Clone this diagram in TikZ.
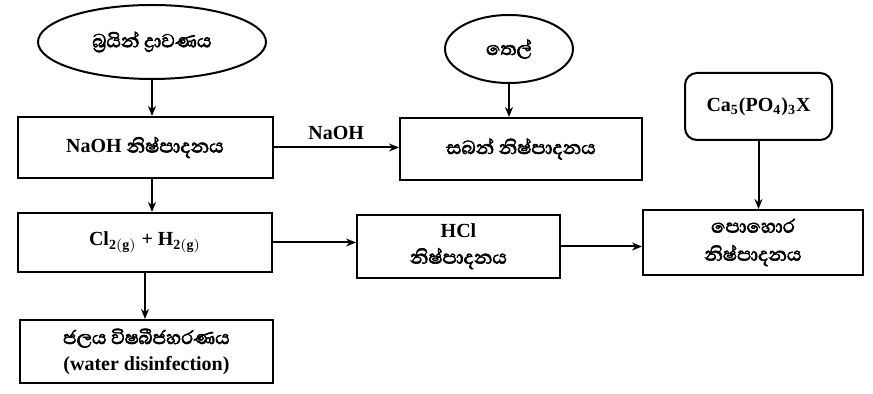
\documentclass[tikz,border=0pt]{standalone}
\usepackage{fontspec}
\setmainfont{Liberation Serif}
\newfontfamily\sinfont[Script=Sinhala,AutoFakeBold=2.5]{Abhaya Libre}
\newcommand{\sintext}[1]{{\sinfont\fontsize{12}{13}\selectfont #1}}
\usetikzlibrary{shapes.geometric,arrows.meta}

\begin{document}
\begin{tikzpicture}[x=0.5pt,y=-0.5pt,
  font=\bfseries\fontsize{10}{12}\selectfont,
  stage/.style={draw,line width=1pt,inner sep=0pt,align=center},
  source/.style={draw,ellipse,line width=1pt,inner sep=0pt,align=center},
  feed/.style={line width=1pt,-{Stealth[length=5pt,width=4pt]}}]
\useasboundingbox (0,0) rectangle (873,394);
\node [source,minimum width=114pt,minimum height=37pt] (brine) at (152,42) {\sintext{බ්‍රයින් ද්‍රාවණය}};
\node [source,minimum width=64pt,minimum height=34pt] (oil) at (509,49) {\sintext{තෙල්}};
\node [stage,minimum width=127.5pt,minimum height=30.5pt] (naoh) at (145,147.5) {NaOH \sintext{නිෂ්පාදනය}};
\node [stage,minimum width=121pt,minimum height=31pt] (soap) at (521,149) {\sintext{සබන් නිෂ්පාදනය}};
\node [stage,minimum width=127pt,minimum height=29.5pt] (gas) at (145,242.5) {Cl$_{\mathbf{2(g)}}$ + H$_{\mathbf{2(g)}}$};
\node [stage,minimum width=101.5pt,minimum height=31.5pt] (hcl) at (458.5,246.5) {HCl\\[1pt]\sintext{නිෂ්පාදනය}};
\node [stage,minimum width=110pt,minimum height=32.5pt] (fert) at (753,242.5) {\sintext{පොහොර}\\[2pt]\sintext{නිෂ්පාදනය}};
\node [stage,rounded corners=6pt,minimum width=73.5pt,minimum height=33.5pt] (rock) at (758.5,106.5) {Ca$_{\mathbf 5}$(PO$_{\mathbf 4}$)$_{\mathbf 3}$X};
\node [stage,minimum width=126.5pt,minimum height=31.5pt] (water) at (146.5,351.5) {\sintext{ජලය විෂබීජහරණය}\\[1pt](water disinfection)};
\draw [feed] (brine.south) -- (brine.south |- naoh.north);
\draw [feed] (oil.south) -- (oil.south |- soap.north);
\draw [feed] (rock.south) -- (rock.south |- fert.north);
\draw [feed] (naoh.south -| brine.south) -- (brine.south |- gas.north);
\draw [feed] (gas.south) -- (gas.south |- water.north);
\draw [feed] (naoh.east) -- (naoh.east -| soap.west) node [midway,above] {NaOH};
\draw [feed] (gas.east) -- (gas.east -| hcl.west);
\draw [feed] (hcl.east) -- (hcl.east -| fert.west);
\end{tikzpicture}
\end{document}
